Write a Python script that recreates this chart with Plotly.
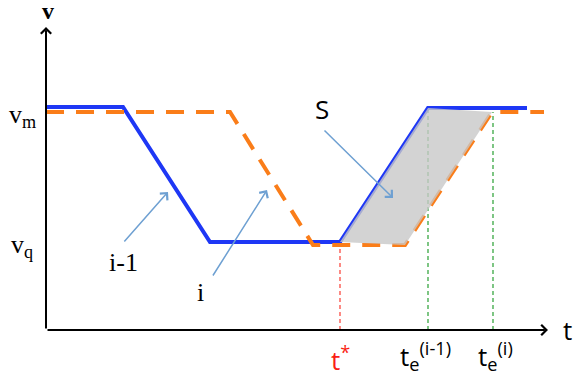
"""Speed profiles of two consecutive vehicles (i-1, i) and the delay area S"""

import plotly.graph_objects as go

# vehicle i-1 (solid blue)
t_prev = [0, 7.7, 16.4, 29.4, 38.2, 48.1]
v_prev = [22.3, 22.3, 8.8, 8.8, 22.2, 22.2]

# vehicle i (dashed orange)
t_curr = [0, 18.4, 26.7, 35.9, 44.6, 49.8]
v_curr = [21.8, 21.8, 8.5, 8.5, 21.8, 21.8]

# shaded area S
t_area = [29.4, 38.2, 44.6, 35.9, 29.4]
v_area = [8.8, 22.2, 21.8, 8.5, 8.8]

# marked instants
t_star = 29.4
te_prev = 38.2
te_curr = 44.7

# axis extents
t_max = 50.2
v_max = 30.3

# callout arrows: (label, text pos, tail, head)
callouts = [
    ("i-1", (7.7, 6.8), (7.7, 8.7), (12.2, 13.8)),
    ("i", (15.4, 3.8), (16.6, 5.3), (22.1, 14.0)),
    ("S", (27.6, 22.1), (27.7, 20.1), (34.7, 13.2)),
]

SERIF = "Liberation Serif"
SANS = "Open Sans"
BLUE = "rgb(30,55,245)"
ORANGE = "rgb(250,125,25)"
ARROW = "rgb(110,160,210)"

fig = go.Figure()

# vertical guides
fig.add_trace(go.Scatter(x=[t_star, t_star], y=[0, v_prev[2]], mode="lines",
                         line=dict(color="rgb(250,60,50)", width=1.2, dash="4px,3px")))
fig.add_trace(go.Scatter(x=[te_prev, te_prev], y=[0, v_prev[4]], mode="lines",
                         line=dict(color="rgb(40,160,50)", width=1.2, dash="4px,3px")))
fig.add_trace(go.Scatter(x=[te_curr, te_curr], y=[0, v_curr[4]], mode="lines",
                         line=dict(color="rgb(40,160,50)", width=1.2, dash="4px,3px")))

fig.add_trace(go.Scatter(x=t_prev, y=v_prev, mode="lines",
                         line=dict(color=BLUE, width=4)))
fig.add_trace(go.Scatter(x=t_curr, y=v_curr, mode="lines",
                         line=dict(color=ORANGE, width=4, dash="18px,12px")))

# area S on top, slightly transparent
fig.add_trace(go.Scatter(x=t_area, y=v_area, mode="lines", fill="toself",
                         fillcolor="rgba(200,200,200,0.8)", line=dict(width=0)))

# axes with arrow heads
for tip in [(t_max, 0), (0, v_max)]:
    fig.add_annotation(x=tip[0], y=tip[1], ax=0, ay=0, xref="x", yref="y",
                       axref="x", ayref="y", showarrow=True, arrowhead=4,
                       arrowsize=1, arrowwidth=2, arrowcolor="black", text="")

for label, pos, tail, head in callouts:
    fig.add_annotation(x=head[0], y=head[1], ax=tail[0], ay=tail[1], xref="x", yref="y",
                       axref="x", ayref="y", showarrow=True, arrowhead=4,
                       arrowsize=1.3, arrowwidth=1.5, arrowcolor=ARROW, text="")
    fig.add_annotation(x=pos[0], y=pos[1], text=label, showarrow=False,
                       font=dict(size=26, color="black",
                                 family=SANS if label == "S" else SERIF))

labels = [
    ("<b>v</b>", 0.2, 31.9, "black", SERIF, 24),
    ("v<sub>m</sub>", -2.4, 21.4, "black", SERIF, 26),
    ("v<sub>q</sub>", -2.4, 8.4, "black", SERIF, 26),
    ("t", 52.1, 0.0, "black", SANS, 26),
    ("t<sup>*</sup>", t_star, -2.9, "rgb(250,30,20)", SANS, 26),
    ("t<sub>e</sub><sup>(i-1)</sup>", te_prev - 0.3, -2.6, "black", SANS, 26),
    ("t<sub>e</sub><sup>(i)</sup>", te_curr + 0.2, -2.6, "black", SANS, 26),
]
for text, x, y, color, family, size in labels:
    fig.add_annotation(x=x, y=y, text=text, showarrow=False,
                       font=dict(size=size, color=color, family=family))

fig.update_layout(
    width=584, height=381,
    margin=dict(l=0, r=0, t=0, b=0),
    paper_bgcolor="white", plot_bgcolor="white",
    showlegend=False,
    xaxis=dict(range=[-4.6, 53.8], visible=False),
    yaxis=dict(range=[-5.1, 33.0], visible=False),
)

fig.write_html("out.html", config={"displayModeBar": False},
               post_script="document.body.style.margin = '0';")
